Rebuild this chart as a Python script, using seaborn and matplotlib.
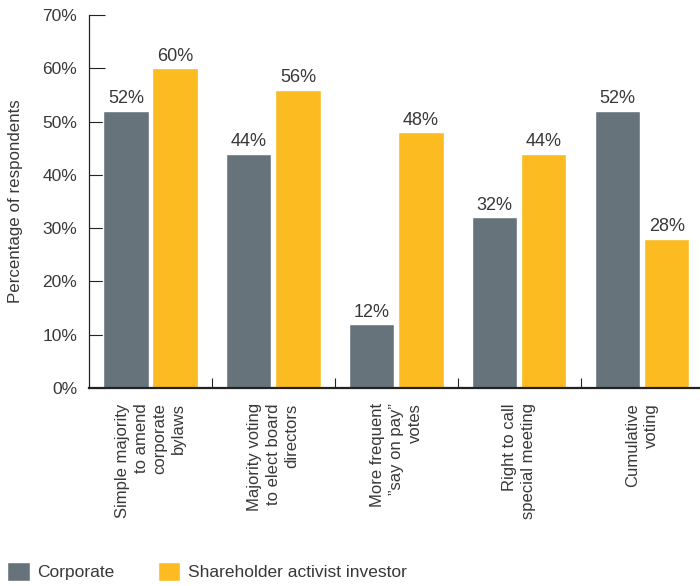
import matplotlib
matplotlib.use("Agg")
import matplotlib.pyplot as plt
import seaborn as sns
import pandas as pd
from matplotlib.ticker import FixedLocator, PercentFormatter

# Survey results: share of respondents supporting each governance proposal
categories = [
    "Simple majority\nto amend\ncorporate\nbylaws",
    "Majority voting\nto elect board\ndirectors",
    "More frequent\n\u201dsay on pay\u201d\nvotes",
    "Right to call\nspecial meeting",
    "Cumulative\nvoting",
]
corporate = [52, 44, 12, 32, 52]
activist = [60, 56, 48, 44, 28]
groups = ["Corporate", "Shareholder activist investor"]
colors = ["#67737B", "#FBBB21"]
y_ticks = [0, 10, 20, 30, 40, 50, 60, 70]

df = pd.DataFrame({
    "proposal": categories * 2,
    "respondent": [groups[0]] * len(categories) + [groups[1]] * len(categories),
    "pct": corporate + activist,
})

sns.set_theme(style="white")
plt.rcParams["font.family"] = ["Liberation Sans", "DejaVu Sans"]
text_color = "#383838"
axis_color = "#222222"

fig = plt.figure(figsize=(7.0, 5.86), dpi=100)
ax = fig.add_axes([89 / 700, 198 / 586, 611 / 700, 373 / 586])

sns.barplot(
    data=df, x="proposal", y="pct", hue="respondent",
    order=categories, hue_order=groups, palette=colors,
    width=0.8, gap=0.08, saturation=1, errorbar=None, ax=ax,
)

for container in ax.containers:
    ax.bar_label(container, fmt="%d%%", padding=2.5, fontsize=13, color=text_color)

ax.set_xlim(-0.5, 4.47)
ax.set_ylim(0, 70)
ax.set_yticks(y_ticks)
ax.yaxis.set_major_formatter(PercentFormatter(decimals=0))
ax.set_xlabel("")
ax.set_ylabel("Percentage of respondents", fontsize=12.2, color=text_color, labelpad=14)

for side in ("top", "right"):
    ax.spines[side].set_visible(False)
ax.spines["left"].set_color(axis_color)
ax.spines["left"].set_linewidth(0.9)
ax.spines["bottom"].set_color(axis_color)
ax.spines["bottom"].set_linewidth(1.6)

ax.tick_params(axis="y", direction="in", length=11.5, width=0.8, color=axis_color,
               labelsize=12.5, labelcolor=text_color, pad=8.5, left=True)
ax.tick_params(axis="x", which="major", length=0, pad=11, labelsize=12, labelcolor=text_color)
ax.xaxis.set_minor_locator(FixedLocator([0.5, 1.5, 2.5, 3.5]))
ax.tick_params(axis="x", which="minor", direction="in", length=7.5, width=0.8,
               color=axis_color, bottom=True)

for lbl in ax.get_xticklabels():
    lbl.set_rotation(90)
    lbl.set_ha("center")
    lbl.set_va("top")
    lbl.set_multialignment("right")
    lbl.set_linespacing(1.3)

sns.move_legend(
    ax, "lower left", bbox_to_anchor=(0.0, -0.003), bbox_transform=fig.transFigure,
    ncol=2, frameon=False, title=None, fontsize=12.5,
    handlelength=1.3, handleheight=1.3, handletextpad=0.45,
    columnspacing=2.48, borderaxespad=0.0,
)
for t in ax.get_legend().get_texts():
    t.set_color(text_color)

fig.savefig("out.png", dpi=100)
